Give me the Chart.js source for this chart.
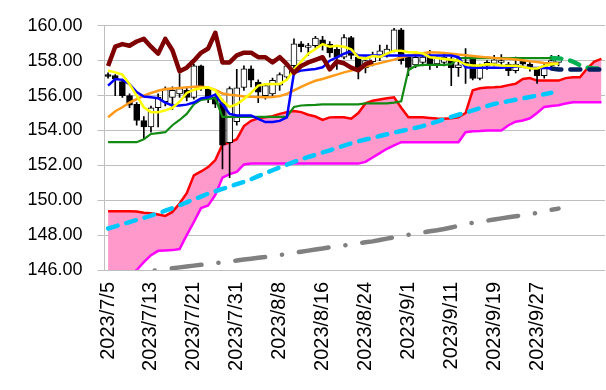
<!DOCTYPE html>
<html>
<head>
<meta charset="utf-8">
<script src="https://cdn.jsdelivr.net/npm/chart.js@4"></script>
<style>
  html, body { margin: 0; padding: 0; background: #fff; }
  #wrap { width: 606px; height: 390px; }
</style>
</head>
<body>
<div id="wrap"><canvas id="ichimoku"></canvas></div>
<script>
// trading days (last 6 slots are the forward cloud, no date)
const dates = ['2023/7/5','2023/7/6','2023/7/7','2023/7/10','2023/7/11','2023/7/12','2023/7/13','2023/7/14',
  '2023/7/17','2023/7/18','2023/7/19','2023/7/20','2023/7/21','2023/7/24','2023/7/25','2023/7/26','2023/7/27',
  '2023/7/28','2023/7/31','2023/8/1','2023/8/2','2023/8/3','2023/8/4','2023/8/7','2023/8/8','2023/8/9',
  '2023/8/10','2023/8/11','2023/8/14','2023/8/15','2023/8/16','2023/8/17','2023/8/18','2023/8/21','2023/8/22',
  '2023/8/23','2023/8/24','2023/8/25','2023/8/28','2023/8/29','2023/8/30','2023/8/31','2023/9/1','2023/9/4',
  '2023/9/5','2023/9/6','2023/9/7','2023/9/8','2023/9/11','2023/9/12','2023/9/13','2023/9/14','2023/9/15',
  '2023/9/18','2023/9/19','2023/9/20','2023/9/21','2023/9/22','2023/9/25','2023/9/26','2023/9/27','2023/9/28',
  '2023/9/29','2023/10/2','','','','','',''];

const opens  = [157.2,157.15,156.8,156.0,155.5,154.57,154.2,155.3,155.65,155.9,156.1,156.3,155.9,157.7,156.4,155.9,
  155.6,153.3,154.5,156.47,157.54,156.76,156.0,156.1,156.6,157.05,157.71,158.97,158.76,158.86,159.2,158.95,158.65,
  158.2,159.33,158.2,157.6,157.95,158.2,158.4,158.57,159.77,158.19,157.76,157.9,158.29,157.81,157.9,158.1,157.6,
  157.9,158.1,156.99,157.7,157.85,157.9,157.8,157.43,158.0,157.8,157.52,157.14,157.7,157.9];
const closes = [157.1,156.95,156.0,155.45,154.57,154.2,155.3,155.9,156.35,156.3,156.4,155.9,157.7,156.46,155.9,155.5,
  153.15,156.4,156.45,157.54,156.88,156.19,156.57,156.88,157.2,157.71,158.97,158.8,158.86,159.3,158.9,158.45,158.2,
  159.33,158.3,157.5,158.0,158.3,158.57,158.67,159.77,158.0,157.62,158.19,158.2,157.81,158.19,158.2,157.6,157.76,
  157.8,156.99,157.71,157.9,158.05,158.0,157.43,157.8,157.8,157.6,157.14,157.71,158.0,158.1];
const highs  = [157.3,157.2,156.95,156.1,155.6,154.8,155.4,156.1,156.5,156.5,157.26,156.5,157.8,157.75,156.5,156.1,
  155.8,156.5,157.5,157.7,157.7,156.9,156.7,157.0,157.3,157.8,159.26,159.1,159.0,159.4,159.4,159.1,158.8,159.5,
  159.4,158.3,158.2,158.5,158.9,158.9,159.85,159.85,158.3,158.4,158.4,158.6,158.3,158.4,158.2,158.0,158.7,158.2,
  157.8,158.0,158.3,158.35,157.9,158.2,158.1,157.9,157.6,157.8,158.3,158.3];
const lows   = [157.0,156.0,155.9,155.3,154.3,153.5,153.9,154.2,155.4,155.2,155.9,155.7,155.8,156.3,155.6,155.3,
  151.8,151.3,154.3,156.3,156.5,155.6,155.8,155.9,156.3,156.9,157.6,158.5,158.3,158.7,158.6,158.2,157.5,158.1,
  158.1,156.95,157.3,157.7,158.0,158.2,158.5,157.8,157.14,157.6,157.7,157.5,157.6,157.7,156.57,157.1,156.7,156.9,
  156.9,157.5,157.7,157.7,157.14,157.3,157.6,157.4,156.69,157.0,157.6,157.7];

const tenkan = [157.43,157.33,157.2,156.65,156.0,155.33,155.05,155.05,155.15,155.3,155.65,156.15,156.33,156.42,
  156.47,156.3,155.7,155.35,155.5,155.8,156.15,156.57,156.65,156.67,156.67,156.9,157.5,157.95,158.4,158.67,158.95,
  158.8,158.85,158.8,158.65,158.19,158.12,158.27,158.22,158.4,158.57,158.57,158.48,158.48,158.42,158.2,158.15,
  158.1,158.05,158.0,157.78,157.72,157.73,157.8,157.78,157.72,157.71,157.71,157.65,157.57,157.55,157.7,157.8,157.82];
const kijun = [156.57,156.95,156.9,156.65,156.2,155.95,155.9,155.85,155.6,155.43,155.43,155.48,155.6,155.84,155.9,
  156.05,155.5,154.95,154.86,154.86,154.86,154.67,154.48,154.48,154.55,154.75,157.3,157.43,157.48,157.52,157.62,
  158.0,158.19,158.4,158.55,158.3,158.3,158.3,158.3,158.3,158.3,158.3,158.3,158.3,158.3,158.3,158.3,158.3,158.3,
  158.2,157.62,157.6,157.6,157.6,157.6,157.6,157.62,157.68,157.65,157.6,157.58,157.6,157.55];
const kijunAhead = [157.55,157.5,157.5,157.5,157.5,157.5,157.5,157.5];   // i62..i69
const chikou = [157.7,158.8,158.95,158.86,159.1,159.25,158.8,158.4,159.25,158.6,157.4,157.6,158.0,158.45,158.7,
  159.6,157.9,157.9,158.3,158.46,158.46,158.2,158.2,157.9,158.2,157.8,157.3,157.7,157.9,158.05,158.2,157.5,157.95,
  157.85,157.6,157.45,157.8,157.95];
const spanA = [149.37,149.37,149.37,149.37,149.35,149.28,149.25,149.18,149.1,149.33,149.81,150.4,151.43,151.65,
  151.9,152.3,153.2,153.3,153.5,154.25,154.55,154.7,154.76,154.82,154.95,155.05,155.12,155.05,154.9,154.8,154.6,
  154.75,154.76,154.76,154.67,155.0,155.55,155.7,155.78,155.85,155.9,155.3,154.76,154.76,154.76,154.72,154.68,
  154.67,154.7,154.75,155.0,156.3,156.42,156.46,156.48,156.51,156.6,156.68,156.95,157.0,156.86,156.86,156.86,
  156.86,157.0,157.05,157.05,157.55,157.95,158.1];
const spanB = [144.4,144.8,145.2,145.6,146.0,146.45,146.85,147.1,147.12,147.14,147.2,148.0,148.75,149.55,149.7,
  150.3,151.3,151.5,151.62,152.05,152.1,152.1,152.1,152.1,152.1,152.1,152.1,152.1,152.1,152.1,152.1,152.1,152.1,
  152.1,152.1,152.1,152.2,152.45,152.7,152.95,153.15,153.33,153.33,153.33,153.33,153.33,153.33,153.33,153.33,
  153.33,153.9,153.95,153.97,154.0,154.0,154.0,154.3,154.5,154.57,154.7,155.0,155.35,155.4,155.45,155.55,155.62,
  155.62,155.62,155.62,155.62];
const ma25 = [154.76,155.1,155.33,155.6,155.8,156.0,156.15,156.28,156.38,156.41,156.44,156.47,156.5,156.5,156.47,
  156.32,156.12,156.05,156.0,155.95,155.93,155.92,155.9,155.92,155.97,156.1,156.3,156.5,156.68,156.85,156.95,
  157.08,157.2,157.33,157.43,157.53,157.66,157.76,157.86,157.96,158.06,158.18,158.28,158.36,158.43,158.48,158.47,
  158.44,158.4,158.35,158.31,158.27,158.23,158.19,158.16,158.13,158.11,158.07,158.02,157.96,157.92,157.87,157.85,157.84];
const greenLine = [153.33,153.33,153.33,153.33,153.33,153.5,153.8,153.85,153.9,154.3,154.6,154.95,155.5,155.75,
  155.81,155.85,154.78,154.78,154.78,154.78,154.78,154.78,154.78,154.78,154.78,154.78,155.35,155.43,155.45,155.47,
  155.5,155.5,155.5,155.5,155.5,155.5,155.55,155.55,155.55,155.55,155.6,155.67,157.45,157.7,157.76,157.76,157.76,
  157.76,157.8,158.15,158.15,158.15,158.15,158.15,158.15,158.15,158.15,158.15,158.15,158.15,158.15,158.15,158.15];
const greenAhead = [158.15,158.13,158.1,157.95,157.75,157.6,157.55,157.55];   // i62..i69
const ma75 = [148.38,148.5,148.62,148.75,148.87,148.99,149.12,149.24,149.4,149.55,149.71,149.88,150.05,150.21,
  150.38,150.51,150.65,150.78,150.92,151.05,151.2,151.38,151.55,151.72,151.88,152.04,152.2,152.35,152.48,152.6,
  152.74,152.86,153.0,153.13,153.26,153.38,153.48,153.58,153.68,153.78,153.88,153.97,154.06,154.15,154.25,154.38,
  154.5,154.65,154.78,154.9,155.02,155.15,155.28,155.4,155.52,155.6,155.68,155.76,155.84,155.92,156.0,156.08,156.16];
const ma200 = [145.65,145.7,145.75,145.8,145.85,145.9,145.95,146.0,146.05,146.1,146.15,146.2,146.25,146.3,146.34,
  146.39,146.44,146.49,146.54,146.6,146.65,146.7,146.75,146.8,146.86,146.92,146.99,147.05,147.11,147.17,147.23,
  147.3,147.36,147.41,147.47,147.53,147.59,147.64,147.72,147.8,147.87,147.95,148.02,148.08,148.15,148.22,148.28,
  148.35,148.44,148.53,148.62,148.71,148.77,148.83,148.9,148.96,149.02,149.08,149.14,149.2,149.27,149.35,149.45,149.52];
const yTicks = [146, 148, 150, 152, 154, 156, 158, 160];

const N = dates.length;
const AHEAD_START = 62;

function pad(arr, start) {
    const out = new Array(N).fill(null);
    arr.forEach((v, i) => { out[start + i] = v; });
    return out;
}

function lineSet(label, data, color, width, order, extra) {
    return Object.assign({
        type: 'line',
        label: label,
        data: data,
        borderColor: color,
        borderWidth: width,
        pointRadius: 0,
        tension: 0,
        fill: false,
        spanGaps: false,
        order: order
    }, extra || {});
}

const bodies = opens.map((o, i) => [o, closes[i]]);
const wicks = lows.map((l, i) => [l, highs[i]]);
const bodyColors = opens.map((o, i) => closes[i] >= o ? '#ffffff' : '#000000');

const datasets = [
    // cloud: red span A, magenta span B with pink fill in between
    lineSet('spanA', pad(spanA, 0), '#ff0000', 2.5, 20),
    lineSet('spanB', pad(spanB, 0), '#ff00ff', 2.5, 21, { fill: { target: 0 }, backgroundColor: '#ff99cc' }),
    lineSet('ma200', pad(ma200, 0), '#808080', 4.5, 15, { borderDash: [30, 17, 0.1, 17], borderCapStyle: 'round' }),
    lineSet('ma75', pad(ma75, 0), '#00c8ff', 4.5, 14, { borderDash: [10, 9], borderCapStyle: 'round' }),
    {
        type: 'bar', label: 'wick', data: pad(wicks, 0), backgroundColor: '#000000',
        barThickness: 1, grouped: false, order: 10
    },
    {
        type: 'bar', label: 'body', data: pad(bodies, 0), backgroundColor: bodyColors,
        borderColor: '#000000', borderWidth: 1, borderSkipped: false,
        barThickness: 6, grouped: false, order: 9
    },
    lineSet('green', pad(greenLine, 0), '#138a13', 2.2, 6),
    lineSet('greenAhead', pad(greenAhead, AHEAD_START), '#00b050', 4.5, 6, { borderDash: [10, 9], borderCapStyle: 'round' }),
    lineSet('ma25', pad(ma25, 0), '#ff9a1a', 2.5, 5),
    lineSet('kijun', pad(kijun, 0), '#0000ff', 2.5, 4),
    lineSet('kijunAhead', pad(kijunAhead, AHEAD_START), '#002060', 4.5, 4, { borderDash: [10, 9], borderCapStyle: 'round' }),
    lineSet('tenkan', pad(tenkan, 0), '#ffff00', 2.5, 3),
    lineSet('chikou', pad(chikou, 0), '#7f0000', 4.5, 2, { borderJoinStyle: 'round' })
];

new Chart(document.getElementById('ichimoku'), {
    type: 'bar',
    data: { labels: dates, datasets: datasets },
    options: {
        responsive: true,
        maintainAspectRatio: false,
        animation: false,
        layout: { padding: { top: 25, right: 1, left: 0, bottom: 0 } },
        plugins: { legend: { display: false }, tooltip: { enabled: false } },
        scales: {
            x: {
                offset: true,
                grid: { display: false, drawTicks: false },
                border: { display: false },
                ticks: {
                    autoSkip: false,
                    maxRotation: 90,
                    minRotation: 90,
                    padding: 12,
                    color: '#000',
                    font: { family: "'Liberation Sans', Arial, sans-serif", size: 20 },
                    callback: (v, i) => (i % 6 === 0 ? dates[i] : '')
                },
                afterFit: s => { s.height = 120; s.paddingLeft = 0; s.paddingRight = 0; }
            },
            y: {
                min: 146,
                max: 160,
                afterBuildTicks: s => { s.ticks = yTicks.map(v => ({ value: v })); },
                grid: { color: '#bfbfbf', lineWidth: 1, tickLength: 7 },
                border: { display: true, color: '#bfbfbf' },
                ticks: {
                    padding: 15,
                    color: '#000',
                    font: { family: "'Liberation Sans', Arial, sans-serif", size: 18 },
                    callback: v => v.toFixed(2)
                },
                afterFit: s => { s.width = 104.5; }
            }
        }
    }
});
</script>
</body>
</html>
